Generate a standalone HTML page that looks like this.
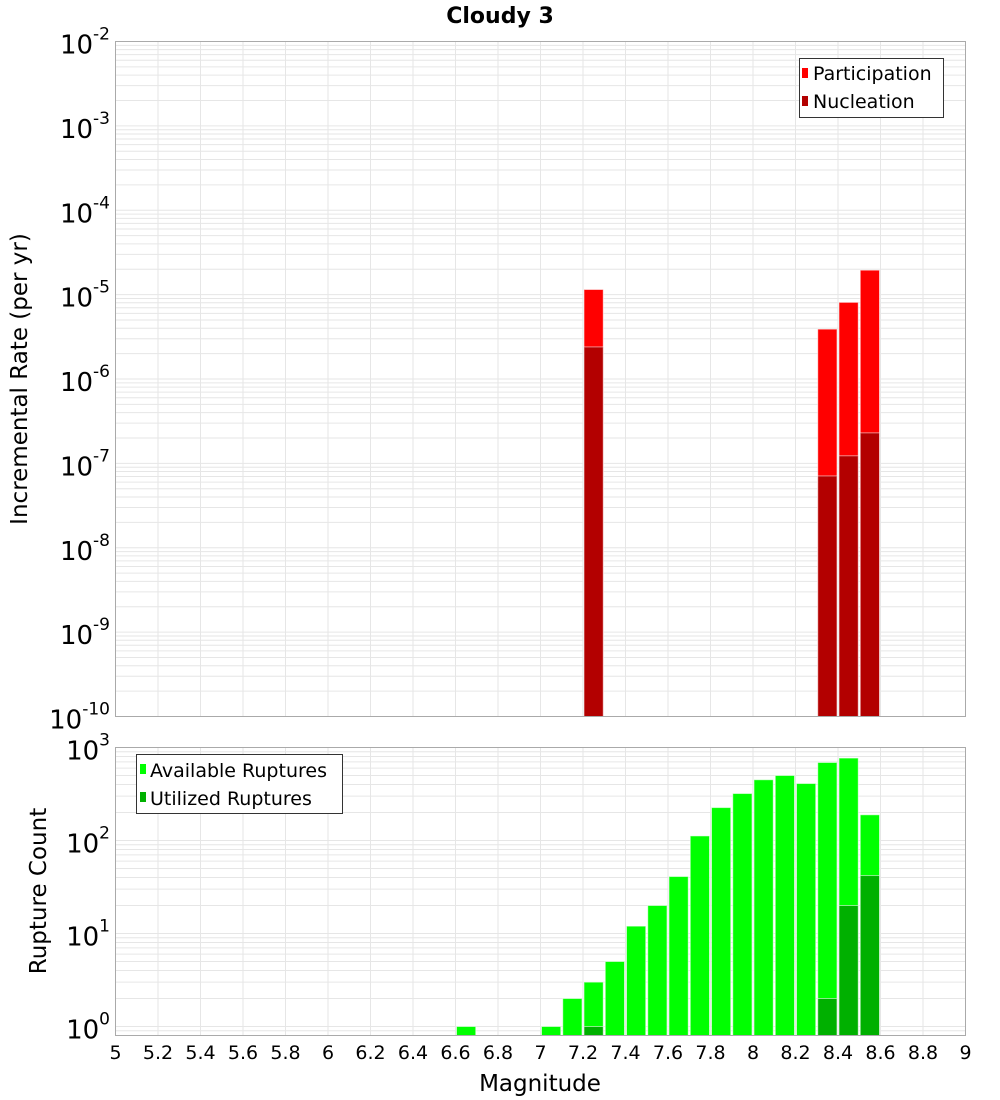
<!DOCTYPE html>
<html>
<head>
<meta charset="utf-8">
<style>
html,body{margin:0;padding:0;background:#fff;}
svg{display:block;font-family:"DejaVu Sans","Liberation Sans",sans-serif;}
</style>
</head>
<body>
<svg id="chart" width="1000" height="1100" viewBox="0 0 1000 1100" xmlns="http://www.w3.org/2000/svg">
  <text x="500" y="23" text-anchor="middle" font-size="22" font-weight="bold">Cloudy 3</text>
  <g id="top-grid"></g>
  <g id="top-bars"></g>
  <rect x="115.5" y="41.5" width="850" height="675" fill="none" stroke="#aaaaaa" stroke-width="1"/>
  <g id="top-yticks"></g>
  <text transform="translate(27,379) rotate(-90)" text-anchor="middle" font-size="23">Incremental Rate (per yr)</text>

  <g id="bot-grid"></g>
  <g id="bot-bars"></g>
  <rect x="115.5" y="747.5" width="850" height="288" fill="none" stroke="#aaaaaa" stroke-width="1"/>
  <g id="bot-yticks"></g>
  <text transform="translate(46,891) rotate(-90)" text-anchor="middle" font-size="23">Rupture Count</text>

  <g id="xticks"></g>
  <text x="540" y="1091" text-anchor="middle" font-size="23">Magnitude</text>

  <g>
    <rect x="799.5" y="58.5" width="144" height="59" fill="#fff" stroke="#333" stroke-width="1"/>
    <g>
      <rect x="802" y="68" width="6" height="10" fill="#ff0000"/>
      <text x="813" y="80" font-size="19">Participation</text>
    </g>
    <g>
      <rect x="802" y="96" width="6" height="10" fill="#b30000"/>
      <text x="813" y="108" font-size="19">Nucleation</text>
    </g>
  </g>
  <g>
    <rect x="136.5" y="754.5" width="206" height="59" fill="#fff" stroke="#333" stroke-width="1"/>
    <g>
      <rect x="140" y="764" width="6" height="10" fill="#00ff00"/>
      <text x="150" y="777" font-size="19">Available Ruptures</text>
    </g>
    <g>
      <rect x="140" y="792" width="6" height="10" fill="#00b000"/>
      <text x="150" y="805" font-size="19">Utilized Ruptures</text>
    </g>
  </g>
</svg>
<script>
// ---- data ----
const rateMags = [7.25, 8.35, 8.45, 8.55];
const participationRates = [1.15e-5, 3.9e-6, 8.1e-6, 1.95e-5];
const nucleationRates = [2.4e-6, 7.1e-8, 1.23e-7, 2.3e-7];

const countMags = [6.65, 7.05, 7.15, 7.25, 7.35, 7.45, 7.55, 7.65, 7.75, 7.85, 7.95, 8.05, 8.15, 8.25, 8.35, 8.45, 8.55];
const availableCounts = [1, 1, 2, 3, 5, 12, 20, 41, 112, 226, 320, 450, 500, 410, 690, 770, 189];
const utilizedMags = [7.25, 8.35, 8.45, 8.55];
const utilizedCounts = [1, 2, 20, 42];

const xTickLabels = ["5","5.2","5.4","5.6","5.8","6","6.2","6.4","6.6","6.8","7","7.2","7.4","7.6","7.8","8","8.2","8.4","8.6","8.8","9"];
const topExponents = [-2,-3,-4,-5,-6,-7,-8,-9,-10];
const botExponents = [3,2,1,0];

// ---- axes ----
const NS = "http://www.w3.org/2000/svg";
const X0 = 115.5, X1 = 965.5, XMIN = 5, XMAX = 9;
const xs = m => X0 + (m - XMIN) / (XMAX - XMIN) * (X1 - X0);
const T0 = 41.5, T1 = 716.5, TLMAX = -2, TLMIN = -10;
const ty = v => T0 + (TLMAX - Math.log10(v)) / (TLMAX - TLMIN) * (T1 - T0);
const B0 = 747.5, B1 = 1035.5, BLMAX = 3, BLMIN = 3 - 288 / 93;
const by = v => B0 + (BLMAX - Math.log10(v)) / (BLMAX - BLMIN) * (B1 - B0);
const BW = 0.1;

function mk(tag, attrs, parent) {
  const e = document.createElementNS(NS, tag);
  for (const k in attrs) e.setAttribute(k, attrs[k]);
  parent.appendChild(e);
  return e;
}

function grid(g, y0, y1, lmin, lmax, yf) {
  xTickLabels.forEach(t => {
    const x = xs(parseFloat(t));
    const l = mk("line", {x1:x, x2:x, y1:y0, y2:y1, stroke:"#e6e6e6", "stroke-width":1}, g);
    
    
  });
  for (let e = Math.floor(lmin); e < lmax; e++) {
    for (let k = 1; k <= 9; k++) {
      const v = k * Math.pow(10, e);
      const y = yf(v);
      if (y < y0 || y > y1) continue;
      const l = mk("line", {x1:X0, x2:X1, y1:y, y2:y, stroke:"#e6e6e6", "stroke-width":1}, g);
      
      
    }
  }
}
grid(document.getElementById("top-grid"), T0, T1, TLMIN, TLMAX, ty);
grid(document.getElementById("bot-grid"), B0, B1, BLMIN, BLMAX, by);

function bar(g, m, v, yf, base, fill, name) {
  const xl = xs(m - BW/2) + 1, xr = xs(m + BW/2) - 1;
  const yt = yf(v);
  const r = mk("rect", {x:xl, y:yt, width:xr - xl, height:base - yt, fill:fill, stroke:"rgba(255,255,255,0.55)", "stroke-width":1}, g);
  
  
}
const tb = document.getElementById("top-bars");
rateMags.forEach((m, i) => bar(tb, m, participationRates[i], ty, T1, "#ff0000", "participation-bar"));
rateMags.forEach((m, i) => bar(tb, m, nucleationRates[i], ty, T1, "#b30000", "nucleation-bar"));
const bb = document.getElementById("bot-bars");
countMags.forEach((m, i) => bar(bb, m, availableCounts[i], by, B1, "#00ff00", "available-bar"));
utilizedMags.forEach((m, i) => bar(bb, m, utilizedCounts[i], by, B1, "#00b000", "utilized-bar"));

function yLabels(g, exps, yf) {
  exps.forEach(e => {
    const y = yf(Math.pow(10, e));
    const t = mk("text", {x:110, y:y + 12, "text-anchor":"end", "font-size":26}, g);
    
    
    const a = document.createElementNS(NS, "tspan");
    a.textContent = "10";
    t.appendChild(a);
    const s = document.createElementNS(NS, "tspan");
    s.setAttribute("font-size", "17");
    s.setAttribute("dy", "-14");
    s.textContent = String(e);
    t.appendChild(s);
  });
}
yLabels(document.getElementById("top-yticks"), topExponents, ty);
yLabels(document.getElementById("bot-yticks"), botExponents, by);

const xg = document.getElementById("xticks");
xTickLabels.forEach(t => {
  const el = mk("text", {x:xs(parseFloat(t)), y:1059, "text-anchor":"middle", "font-size":19}, xg);
  
  
  el.textContent = t;
});
</script>
</body>
</html>
